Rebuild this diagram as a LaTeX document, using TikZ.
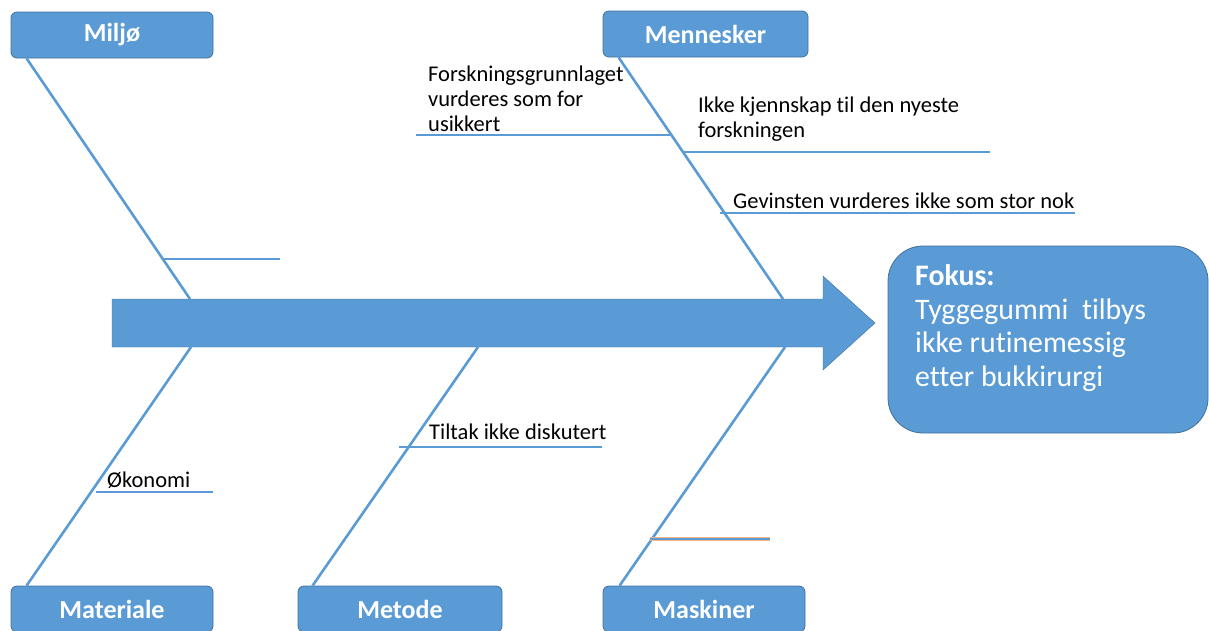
\documentclass[tikz,border=0pt]{standalone}
\usepackage{fontspec}
\setmainfont{Carlito}[Ligatures={NoCommon}]
\usetikzlibrary{calc}
\definecolor{boxblue}{HTML}{5B9BD5}
\definecolor{boxedge}{HTML}{41719C}
\definecolor{lineblue}{HTML}{5B9BD5}
\definecolor{edgeorange}{HTML}{F4B183}
\begin{document}
\begin{tikzpicture}[x=1pt,y=-1pt,
  box/.style={draw=boxedge, fill=boxblue, rounded corners=6pt, line width=0.8pt,
    text=white, font=\fontsize{26}{30}\selectfont\bfseries, inner sep=0pt},
  bone/.style={draw=lineblue, line width=2.6pt},
  lbl/.style={font=\fontsize{22.5}{25}\selectfont, inner sep=0pt, align=left, text=black}]
\useasboundingbox (0,0) rectangle (1209,630);

% category boxes
\node[box, minimum width=202pt, minimum height=46pt] (miljo) at (112,35) {Miljø};
\node[box, minimum width=205pt, minimum height=46pt] (mennesker) at (705.5,34) {Mennesker};
\node[box, minimum width=202pt, minimum height=46pt] (materiale) at (112,609) {Materiale};
\node[box, minimum width=204pt, minimum height=46pt] (metode) at (400,609) {Metode};
\node[box, minimum width=202pt, minimum height=46pt] (maskiner) at (704,609) {Maskiner};

% spine end points on the main arrow
\coordinate (miljoEnd) at (190,299);
\coordinate (menEnd) at (783,299);
\coordinate (matEnd) at (191,347);
\coordinate (metEnd) at (478,347);
\coordinate (maskEnd) at (785,347);

% spines
\draw[bone] ($(miljo.south west)+(16,0)$) -- (miljoEnd);
\draw[bone] ($(mennesker.south west)+(16,0)$) -- (menEnd);
\draw[bone] ($(materiale.north west)+(16,0)$) -- (matEnd);
\draw[bone] ($(metode.north west)+(15,0)$) -- (metEnd);
\draw[bone] ($(maskiner.north west)+(17,0)$) -- (maskEnd);

% sub-branches
\coordinate (s1a) at (163,259); \coordinate (s1b) at (280,259);
\coordinate (s2a) at (416,135); \coordinate (s2b) at (670,135);
\coordinate (s3a) at (683,152); \coordinate (s3b) at (990,152);
\coordinate (s4a) at (720,213); \coordinate (s4b) at (1075,213);
\coordinate (s5a) at (96,492);  \coordinate (s5b) at (213,492);
\coordinate (s6a) at (399,447); \coordinate (s6b) at (602,447);
\coordinate (s7a) at (650,539); \coordinate (s7b) at (770,539);
\draw[bone] (s1a) -- (s1b);
\draw[bone] (s2a) -- (s2b);
\draw[bone] (s3a) -- (s3b);
\draw[bone] (s4a) -- (s4b);
\draw[bone] (s5a) -- (s5b);
\draw[bone] (s6a) -- (s6b);
\draw[draw=edgeorange, line width=3.2pt] (s7a) -- (s7b);
\draw[draw=lineblue, line width=2pt] (s7a) -- (s7b);

% main arrow
\draw[draw=boxedge, fill=boxblue, line width=0.4pt]
  (112,299) -- (823,299) -- (823,276) -- (875,323) -- (823,370) -- (823,347) -- (112,347) -- cycle;

% focus box
\node[draw=boxedge, fill=boxblue, rounded corners=35pt, line width=0.8pt,
  minimum width=320pt, minimum height=187pt, inner sep=0pt] (fokus) at (1048,339.5) {};
\node[anchor=north west, text=white, font=\fontsize{29.8}{33.5}\selectfont, align=left, inner sep=0pt]
  (fokustext) at (915,264.5) {\textbf{Fokus:}\\Tyggegummi\ \ tilbys\\ikke rutinemessig\\etter bukkirurgi};

% labels
\node[lbl, anchor=north west] (t1) at (428,65.5) {Forskningsgrunnlaget\\vurderes som for\\usikkert};
\node[lbl, anchor=north west] (t2) at (698,96.5) {Ikke kjennskap til den nyeste\\forskningen};
\node[lbl, anchor=base west] (t3) at (733,208) {Gevinsten vurderes ikke som stor nok};
\node[lbl, anchor=base west] (t4) at (429,439) {Tiltak ikke diskutert};
\node[lbl, anchor=base west] (t5) at (107,487) {Økonomi};
\end{tikzpicture}
\end{document}
